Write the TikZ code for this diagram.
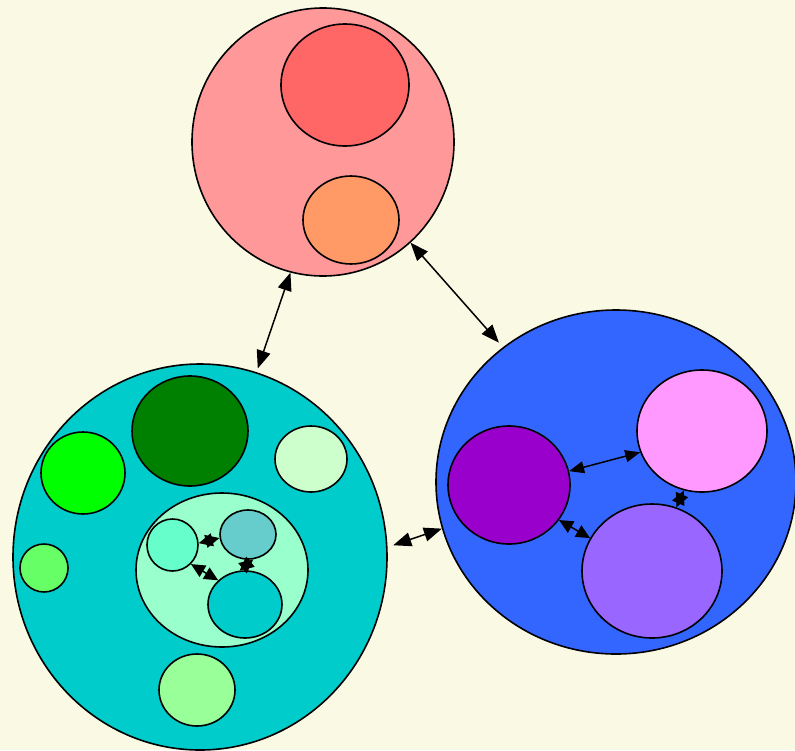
\documentclass[tikz,border=0pt]{standalone}
\usetikzlibrary{shapes.geometric,arrows.meta}
\definecolor{bg}{RGB}{250,250,228}
\definecolor{cTop}{HTML}{FF9999}
\definecolor{cRed}{HTML}{FF6666}
\definecolor{cOrange}{HTML}{FF9966}
\definecolor{cCyan}{HTML}{00CCCC}
\definecolor{cDkGreen}{HTML}{008000}
\definecolor{cGreen}{HTML}{00FF00}
\definecolor{cPaleGreen}{HTML}{CCFFCC}
\definecolor{cMidGreen}{HTML}{66FF66}
\definecolor{cLtGreen}{HTML}{99FF99}
\definecolor{cMint}{HTML}{99FFCC}
\definecolor{cAqua}{HTML}{66FFCC}
\definecolor{cTeal}{HTML}{66CCCC}
\definecolor{cBlue}{HTML}{3366FF}
\definecolor{cPurple}{HTML}{9900CC}
\definecolor{cPink}{HTML}{FF99FF}
\definecolor{cViolet}{HTML}{9966FF}
\tikzset{
  blob/.style args={#1/#2/#3}{ellipse, draw=black, line width=1.6pt, inner sep=0pt,
    fill=#1, minimum width=#2pt, minimum height=#3pt},
  link/.style={{Triangle[length=18pt,width=14pt]}-{Triangle[length=18pt,width=14pt]}, line width=1.5pt},
  midlink/.style={{Triangle[length=15pt,width=12pt]}-{Triangle[length=15pt,width=12pt]}, line width=1.5pt},
  smalllink/.style={{Triangle[length=14pt,width=13pt]}-{Triangle[length=14pt,width=13pt]}, line width=1.5pt}
}
\begin{document}
\begin{tikzpicture}[x=1pt,y=-1pt]
\useasboundingbox (0,0) rectangle (795,750);
\fill[bg] (0,0) rectangle (795,750);
\clip (0,0) rectangle (795,750);
% top cluster
\node[blob=cTop/262/268] (T) at (323,142) {};
\node[blob=cRed/128/122] (T1) at (345,85) {};
\node[blob=cOrange/96/88] (T2) at (351,220) {};
% left cluster
\node[blob=cCyan/374/386] (L) at (200,557) {};
\node[blob=cDkGreen/116/110] (L1) at (190,431) {};
\node[blob=cGreen/84/82] (L2) at (83,473) {};
\node[blob=cPaleGreen/72/66] (L3) at (311,459) {};
\node[blob=cMidGreen/48/48] (L4) at (44,568) {};
\node[blob=cLtGreen/76/72] (L5) at (197,690) {};
\node[blob=cMint/172/154] (M) at (222,570) {};
\node[blob=cAqua/51/52] (A) at (172.5,545) {};
\node[blob=cTeal/56/49] (B) at (248,534.5) {};
\node[blob=cCyan/74/67] (C) at (245,604.5) {};
% right cluster
\node[blob=cBlue/360/344] (R) at (616,482) {};
\node[blob=cPurple/122/118] (P) at (509,485) {};
\node[blob=cPink/130/122] (K) at (702,431) {};
\node[blob=cViolet/140/134] (V) at (652,571) {};
% connectors between clusters
\draw[link, shorten >=4pt] (T.256) -- (L.73);
\draw[link, shorten >=6pt] (T.311) -- (R.130);
\draw[link, shorten <=6pt] (L.3.6) -- (R.195);
% right cluster connectors
\draw[midlink] (P.13) -- (K.199.5);
\draw[smalllink] (P.325.5) -- (V.152.7);
\draw[smalllink] (K.253) -- (V.69);
% inner cluster connectors
\draw[smalllink] (A.4.5) -- (B.187);
\draw[smalllink] (A.314) -- (C.138);
\draw[smalllink] (B.282.5) -- (C.99);
\end{tikzpicture}
\end{document}
